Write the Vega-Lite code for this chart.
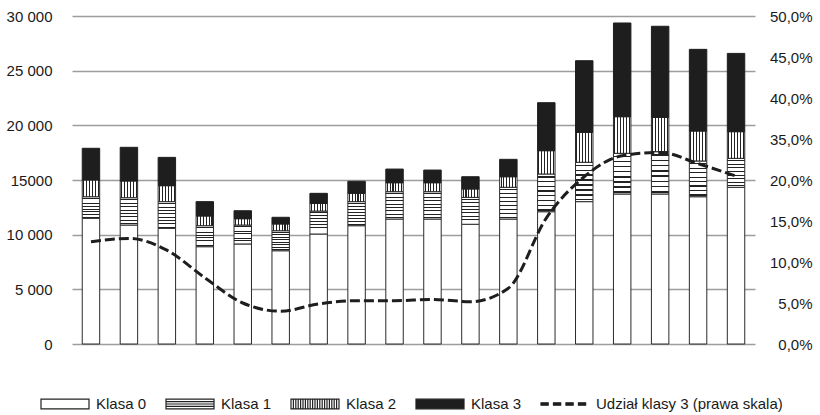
{
  "$schema": "https://vega.github.io/schema/vega-lite/v6.json",
  "width": 683,
  "height": 328,
  "autosize": {"type": "none"},
  "padding": {"left": 72, "top": 16, "right": 65, "bottom": 71},
  "background": "white",
  "config": {
    "view": {"stroke": null},
    "font": "Liberation Sans",
    "axis": {"labelFont": "Liberation Sans", "labelFontSize": 15, "labelColor": "#1a1a1a", "title": null}
  },
  "layer": [
    {
      "data": {"values": [
        {"year": "2000", "klasa": "Klasa 0", "value": 11500}, {"year": "2000", "klasa": "Klasa 1", "value": 1970}, {"year": "2000", "klasa": "Klasa 2", "value": 1530}, {"year": "2000", "klasa": "Klasa 3", "value": 2900},
        {"year": "2001", "klasa": "Klasa 0", "value": 10880}, {"year": "2001", "klasa": "Klasa 1", "value": 2500}, {"year": "2001", "klasa": "Klasa 2", "value": 1530}, {"year": "2001", "klasa": "Klasa 3", "value": 3080},
        {"year": "2002", "klasa": "Klasa 0", "value": 10580}, {"year": "2002", "klasa": "Klasa 1", "value": 2440}, {"year": "2002", "klasa": "Klasa 2", "value": 1460}, {"year": "2002", "klasa": "Klasa 3", "value": 2590},
        {"year": "2003", "klasa": "Klasa 0", "value": 8900}, {"year": "2003", "klasa": "Klasa 1", "value": 1920}, {"year": "2003", "klasa": "Klasa 2", "value": 890}, {"year": "2003", "klasa": "Klasa 3", "value": 1310},
        {"year": "2004", "klasa": "Klasa 0", "value": 9150}, {"year": "2004", "klasa": "Klasa 1", "value": 1730}, {"year": "2004", "klasa": "Klasa 2", "value": 580}, {"year": "2004", "klasa": "Klasa 3", "value": 730},
        {"year": "2005", "klasa": "Klasa 0", "value": 8530}, {"year": "2005", "klasa": "Klasa 1", "value": 1830}, {"year": "2005", "klasa": "Klasa 2", "value": 620}, {"year": "2005", "klasa": "Klasa 3", "value": 610},
        {"year": "2006", "klasa": "Klasa 0", "value": 10060}, {"year": "2006", "klasa": "Klasa 1", "value": 2100}, {"year": "2006", "klasa": "Klasa 2", "value": 700}, {"year": "2006", "klasa": "Klasa 3", "value": 920},
        {"year": "2007", "klasa": "Klasa 0", "value": 10820}, {"year": "2007", "klasa": "Klasa 1", "value": 2200}, {"year": "2007", "klasa": "Klasa 2", "value": 760}, {"year": "2007", "klasa": "Klasa 3", "value": 1100},
        {"year": "2008", "klasa": "Klasa 0", "value": 11430}, {"year": "2008", "klasa": "Klasa 1", "value": 2500}, {"year": "2008", "klasa": "Klasa 2", "value": 820}, {"year": "2008", "klasa": "Klasa 3", "value": 1250},
        {"year": "2009", "klasa": "Klasa 0", "value": 11430}, {"year": "2009", "klasa": "Klasa 1", "value": 2500}, {"year": "2009", "klasa": "Klasa 2", "value": 820}, {"year": "2009", "klasa": "Klasa 3", "value": 1160},
        {"year": "2010", "klasa": "Klasa 0", "value": 10950}, {"year": "2010", "klasa": "Klasa 1", "value": 2460}, {"year": "2010", "klasa": "Klasa 2", "value": 770}, {"year": "2010", "klasa": "Klasa 3", "value": 1120},
        {"year": "2011", "klasa": "Klasa 0", "value": 11430}, {"year": "2011", "klasa": "Klasa 1", "value": 2900}, {"year": "2011", "klasa": "Klasa 2", "value": 970}, {"year": "2011", "klasa": "Klasa 3", "value": 1590},
        {"year": "2012", "klasa": "Klasa 0", "value": 12100}, {"year": "2012", "klasa": "Klasa 1", "value": 3450}, {"year": "2012", "klasa": "Klasa 2", "value": 2130}, {"year": "2012", "klasa": "Klasa 3", "value": 4390},
        {"year": "2013", "klasa": "Klasa 0", "value": 13020}, {"year": "2013", "klasa": "Klasa 1", "value": 3600}, {"year": "2013", "klasa": "Klasa 2", "value": 2740}, {"year": "2013", "klasa": "Klasa 3", "value": 6550},
        {"year": "2014", "klasa": "Klasa 0", "value": 13720}, {"year": "2014", "klasa": "Klasa 1", "value": 3720}, {"year": "2014", "klasa": "Klasa 2", "value": 3350}, {"year": "2014", "klasa": "Klasa 3", "value": 8570},
        {"year": "2015", "klasa": "Klasa 0", "value": 13720}, {"year": "2015", "klasa": "Klasa 1", "value": 3870}, {"year": "2015", "klasa": "Klasa 2", "value": 3140}, {"year": "2015", "klasa": "Klasa 3", "value": 8330},
        {"year": "2016", "klasa": "Klasa 0", "value": 13470}, {"year": "2016", "klasa": "Klasa 1", "value": 3270}, {"year": "2016", "klasa": "Klasa 2", "value": 2740}, {"year": "2016", "klasa": "Klasa 3", "value": 7470},
        {"year": "2017", "klasa": "Klasa 0", "value": 14330}, {"year": "2017", "klasa": "Klasa 1", "value": 2650}, {"year": "2017", "klasa": "Klasa 2", "value": 2440}, {"year": "2017", "klasa": "Klasa 3", "value": 7160}
      ]},
      "transform": [
        {"stack": "value", "groupby": ["year"], "sort": [{"field": "klasa", "order": "ascending"}], "as": ["v0", "v1"]}
      ],
      "encoding": {
        "x": {
          "field": "year", "type": "ordinal",
          "scale": {"paddingInner": 0.54, "paddingOuter": 0.27},
          "axis": {
            "title": null, "labelAngle": 0, "ticks": false, "domain": true, "domainColor": "#333333", "domainWidth": 1.5,
            "labelPadding": 11, "labelBaseline": "top", "grid": false
          }
        },
        "y": {
          "field": "v1", "type": "quantitative",
          "scale": {"domain": [0, 30000], "nice": false},
          "axis": {
            "title": null, "values": [0, 5000, 10000, 15000, 20000, 25000, 30000],
            "labelExpr": "datum.value == 15000 ? '15000' : replace(format(datum.value, ','), ',', ' ')",
            "grid": true, "gridColor": "#9d9d9d", "gridWidth": 1.5, "ticks": false, "domain": false, "labelPadding": 20
          }
        },
        "y2": {"field": "v0"}
      },
      "layer": [
        {
          "transform": [{"filter": "datum.klasa === 'Klasa 0'"}],
          "mark": {"type": "bar", "fill": "white", "stroke": "#2a2a2a", "strokeWidth": 1}
        },
        {
          "transform": [{"filter": "datum.klasa === 'Klasa 1'"}],
          "mark": {
            "type": "bar", "stroke": "#2a2a2a", "strokeWidth": 1,
            "fill": {
              "gradient": "linear", "x1": 0, "y1": 0, "x2": 0, "y2": 1,
              "stops": [
                {"offset": 0, "color": "white"},
                {"offset": 0.06, "color": "white"}, {"offset": 0.06, "color": "#222222"}, {"offset": 0.095, "color": "#222222"}, {"offset": 0.095, "color": "white"},
                {"offset": 0.185, "color": "white"}, {"offset": 0.185, "color": "#222222"}, {"offset": 0.22, "color": "#222222"}, {"offset": 0.22, "color": "white"},
                {"offset": 0.31, "color": "white"}, {"offset": 0.31, "color": "#222222"}, {"offset": 0.345, "color": "#222222"}, {"offset": 0.345, "color": "white"},
                {"offset": 0.435, "color": "white"}, {"offset": 0.435, "color": "#222222"}, {"offset": 0.47, "color": "#222222"}, {"offset": 0.47, "color": "white"},
                {"offset": 0.56, "color": "white"}, {"offset": 0.56, "color": "#222222"}, {"offset": 0.595, "color": "#222222"}, {"offset": 0.595, "color": "white"},
                {"offset": 0.685, "color": "white"}, {"offset": 0.685, "color": "#222222"}, {"offset": 0.72, "color": "#222222"}, {"offset": 0.72, "color": "white"},
                {"offset": 0.81, "color": "white"}, {"offset": 0.81, "color": "#222222"}, {"offset": 0.845, "color": "#222222"}, {"offset": 0.845, "color": "white"},
                {"offset": 0.935, "color": "white"}, {"offset": 0.935, "color": "#222222"}, {"offset": 0.97, "color": "#222222"}, {"offset": 0.97, "color": "white"},
                {"offset": 1, "color": "white"}
              ]
            }
          }
        },
        {
          "transform": [{"filter": "datum.klasa === 'Klasa 2'"}],
          "mark": {
            "type": "bar", "stroke": "#2a2a2a", "strokeWidth": 1,
            "fill": {
              "gradient": "linear", "x1": 0, "y1": 0, "x2": 1, "y2": 0,
              "stops": [
                {"offset": 0, "color": "white"},
                {"offset": 0.05, "color": "white"}, {"offset": 0.05, "color": "#222222"}, {"offset": 0.11, "color": "#222222"}, {"offset": 0.11, "color": "white"},
                {"offset": 0.2167, "color": "white"}, {"offset": 0.2167, "color": "#222222"}, {"offset": 0.2767, "color": "#222222"}, {"offset": 0.2767, "color": "white"},
                {"offset": 0.3833, "color": "white"}, {"offset": 0.3833, "color": "#222222"}, {"offset": 0.4433, "color": "#222222"}, {"offset": 0.4433, "color": "white"},
                {"offset": 0.55, "color": "white"}, {"offset": 0.55, "color": "#222222"}, {"offset": 0.61, "color": "#222222"}, {"offset": 0.61, "color": "white"},
                {"offset": 0.7167, "color": "white"}, {"offset": 0.7167, "color": "#222222"}, {"offset": 0.7767, "color": "#222222"}, {"offset": 0.7767, "color": "white"},
                {"offset": 0.8833, "color": "white"}, {"offset": 0.8833, "color": "#222222"}, {"offset": 0.9433, "color": "#222222"}, {"offset": 0.9433, "color": "white"},
                {"offset": 1, "color": "white"}
              ]
            }
          }
        },
        {
          "transform": [{"filter": "datum.klasa === 'Klasa 3'"}],
          "mark": {"type": "bar", "fill": "#1e1e1e", "stroke": "#1e1e1e", "strokeWidth": 1}
        }
      ]
    },
    {
      "data": {"values": [
        {"year": "2000", "share": 0.156}, {"year": "2001", "share": 0.161}, {"year": "2002", "share": 0.143},
        {"year": "2003", "share": 0.101}, {"year": "2004", "share": 0.0625}, {"year": "2005", "share": 0.05},
        {"year": "2006", "share": 0.061}, {"year": "2007", "share": 0.066}, {"year": "2008", "share": 0.066},
        {"year": "2009", "share": 0.068}, {"year": "2010", "share": 0.0645}, {"year": "2011", "share": 0.085},
        {"year": "2012", "share": 0.192}, {"year": "2013", "share": 0.255}, {"year": "2014", "share": 0.287},
        {"year": "2015", "share": 0.292}, {"year": "2016", "share": 0.275}, {"year": "2017", "share": 0.256}
      ]},
      "mark": {"type": "line", "interpolate": "monotone", "strokeDash": [10, 4], "strokeWidth": 3},
      "encoding": {
        "x": {"field": "year", "type": "ordinal", "axis": null},
        "y": {
          "field": "share", "type": "quantitative",
          "scale": {"domain": [0, 0.5], "nice": false},
          "axis": {
            "orient": "right", "title": null,
            "values": [0, 0.0625, 0.125, 0.1875, 0.25, 0.3125, 0.375, 0.4375, 0.5],
            "labelExpr": "replace(format(datum.value <= 0.26 ? datum.value * 0.8 : datum.value * 0.8 + 0.1, '.1%'), '.', ',')",
            "grid": false, "ticks": false, "domain": false, "labelAlign": "right", "labelPadding": 57
          }
        },
        "color": {
          "datum": "Udział klasy 3 (prawa skala)",
          "scale": {
            "domain": ["Klasa 0", "Klasa 1", "Klasa 2", "Klasa 3", "Udział klasy 3 (prawa skala)"],
            "range": ["#222222", "#222222", "#222222", "#1e1e1e", "#1e1e1e"]
          },
          "legend": {
            "title": null, "orient": "none", "legendX": -32, "legendY": 363, "direction": "horizontal",
            "labelFont": "Liberation Sans", "labelFontSize": 15, "labelColor": "#1a1a1a", "labelLimit": 320,
            "columnPadding": 16, "labelOffset": 6, "symbolSize": 2304, "symbolStrokeWidth": 1.2,
            "encode": {
              "symbols": {
                "update": {
                  "shape": {"signal": "datum.value === 'Klasa 0' || datum.value === 'Klasa 3' ? 'M-1,-0.2H1V0.2H-1Z' : datum.value === 'Klasa 1' ? 'M-1,-0.2H1V0.2H-1ZM-1,-0.1H1M-1,0H1M-1,0.1H1' : datum.value === 'Klasa 2' ? 'M-1,-0.2H1V0.2H-1ZM-0.9,-0.2V0.2M-0.8,-0.2V0.2M-0.7,-0.2V0.2M-0.6,-0.2V0.2M-0.5,-0.2V0.2M-0.4,-0.2V0.2M-0.3,-0.2V0.2M-0.2,-0.2V0.2M-0.1,-0.2V0.2M0,-0.2V0.2M0.1,-0.2V0.2M0.2,-0.2V0.2M0.3,-0.2V0.2M0.4,-0.2V0.2M0.5,-0.2V0.2M0.6,-0.2V0.2M0.7,-0.2V0.2M0.8,-0.2V0.2M0.9,-0.2V0.2' : 'M-1,-0.05H-0.7V0.05H-1ZM-0.48,-0.05H-0.18V0.05H-0.48ZM0.04,-0.05H0.34V0.05H0.04ZM0.56,-0.05H0.86V0.05H0.56Z'"},
                  "fill": {"signal": "datum.value === 'Klasa 0' || datum.value === 'Klasa 1' || datum.value === 'Klasa 2' ? '#ffffff' : '#1e1e1e'"},
                  "stroke": {"signal": "datum.value === 'Klasa 0' || datum.value === 'Klasa 1' || datum.value === 'Klasa 2' ? '#222222' : '#1e1e1e'"},
                  "opacity": {"value": 1}
                }
              }
            }
          }
        }
      }
    }
  ],
  "resolve": {"scale": {"y": "independent"}}
}
